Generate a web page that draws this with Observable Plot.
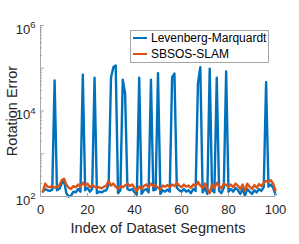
<!DOCTYPE html>
<html><head><meta charset="utf-8">
<script src="https://cdn.jsdelivr.net/npm/d3@7"></script>
<script src="https://cdn.jsdelivr.net/npm/@observablehq/plot@0.6"></script>
<style>
body{margin:0;background:#fff;}
#wrap{position:relative;width:299px;height:244px;font-family:"Liberation Sans",Arial,sans-serif;}
.legend{position:absolute;left:130px;top:30px;width:137px;height:31px;border:1px solid #a6a6a6;background:#fff;}
.legend .ln{position:absolute;left:2px;width:14px;height:2px;}
.legend .tx{position:absolute;left:20px;font-size:12px;line-height:16px;color:#000;white-space:nowrap;}
</style>
</head><body>
<div id="wrap"></div>
<script>
// Data
const seriesNames = ["Levenberg-Marquardt", "SBSOS-SLAM"];
const seriesColors = ["#0072BD", "#D95319"];
const segmentIndex = d3.range(1, 101);
const lmError = [
  130, 150, 140, 135, 145, 52000, 140, 150, 200, 230,
  120, 100, 105, 130, 125, 150, 130, 71000, 140, 160,
  130, 150, 60000, 120, 130, 125, 135, 140, 190, 60000,
  106000, 116000, 120, 140, 54000, 26000, 150, 140, 150, 125,
  110, 60000, 115, 140, 150, 125, 54000, 140, 145, 77000,
  115, 140, 130, 145, 130, 62000, 75000, 160, 140, 130,
  150, 130, 140, 120, 150, 135, 44000, 106000, 125, 160,
  115, 97000, 140, 125, 60000, 135, 120, 160, 84000, 130,
  150, 130, 160, 140, 115, 150, 105, 150, 130, 115,
  140, 125, 150, 135, 165, 47000, 170, 190, 160, 110
];
const sbsosError = [
  130, 200, 170, 165, 175, 160, 170, 180, 240, 260,
  190, 160, 150, 175, 165, 190, 170, 210, 180, 200,
  165, 185, 170, 160, 165, 155, 170, 180, 230, 180,
  200, 170, 150, 175, 165, 180, 200, 175, 190, 160,
  135, 170, 150, 175, 190, 165, 200, 175, 185, 160,
  145, 180, 170, 185, 165, 190, 175, 210, 180, 165,
  190, 170, 180, 160, 190, 175, 220, 180, 160, 200,
  150, 120, 190, 160, 210, 175, 155, 200, 185, 170,
  190, 165, 200, 180, 150, 190, 135, 200, 170, 150,
  185, 160, 195, 175, 210, 230, 220, 240, 200, 140
];
const xTicks = [0, 20, 40, 60, 80, 100];
const yLabelTicks = [1e2, 1e4, 1e6];
const yMajorTicks = [1e2, 1e3, 1e4, 1e5, 1e6];
const yMinorTicks = [];
for (const dec of [1e2, 1e3, 1e4, 1e5]) for (const m of [2,3,4,5,6,7,8,9]) yMinorTicks.push(m * dec);
const xLabel = "Index of Dataset Segments";
const yLabel = "Rotation Error";

const rows = segmentIndex.map((s, i) => ({seg: s, val: lmError[i], series: seriesNames[0]}));
const rows2 = segmentIndex.map((s, i) => ({seg: s, val: sbsosError[i], series: seriesNames[1]}));

const axisColor = "#a6a6a6";
const chart = Plot.plot({
  width: 299, height: 244,
  marginLeft: 40, marginRight: 24, marginTop: 25, marginBottom: 48,
  style: {fontFamily: '"Liberation Sans", Arial, sans-serif', fontSize: "13px", color: "#262626", background: "#fff"},
  x: {domain: [0, 100], axis: null},
  y: {type: "log", domain: [100, 1e6], axis: null},
  marks: [
    Plot.line(rows, {x: "seg", y: "val", stroke: seriesColors[0], strokeWidth: 2.4}),
    Plot.line(rows2, {x: "seg", y: "val", stroke: seriesColors[1], strokeWidth: 2.4}),
    Plot.ruleX([0], {stroke: axisColor}),
    Plot.ruleY([100], {stroke: axisColor}),
    Plot.tickY(yMinorTicks, {y: d => d, insetRight: 233, stroke: axisColor}),
    Plot.tickY(yMajorTicks, {y: d => d, insetRight: 231, stroke: axisColor}),
    Plot.tickX(xTicks, {x: d => d, insetTop: 168, stroke: axisColor}),
    Plot.axisY({ticks: yLabelTicks, tickSize: 0, tickPadding: 5, dy: 4, fontSize: 13,
      tickFormat: d => "10^" + Math.round(Math.log10(d)), label: null}),
    Plot.axisX({ticks: xTicks, tickSize: 0, tickPadding: 8, fontSize: 13, tickFormat: d => String(d), label: null}),
    Plot.text([xLabel], {frameAnchor: "bottom", lineAnchor: "middle", textAnchor: "middle", dy: 32, fontSize: 14.5, fill: "#262626"}),
    Plot.text([yLabel], {frameAnchor: "left", lineAnchor: "middle", textAnchor: "middle", rotate: -90, dx: -28, fontSize: 14.5, fill: "#262626"})
  ]
});

chart.querySelectorAll("text").forEach(t => {
  const m = /^10\^(\d+)$/.exec(t.textContent);
  if (m) {
    t.textContent = "10";
    const ts = document.createElementNS("http://www.w3.org/2000/svg", "tspan");
    ts.setAttribute("dy", "-0.55em");
    ts.setAttribute("font-size", "9.5");
    ts.textContent = m[1];
    t.appendChild(ts);
  }
});

const wrap = document.getElementById("wrap");
wrap.appendChild(chart);
const legend = document.createElement("div");
legend.className = "legend";
const pos = [{line: 6, text: -1}, {line: 22, text: 15}];
seriesNames.forEach((name, i) => {
  const ln = document.createElement("span");
  ln.className = "ln";
  ln.style.top = pos[i].line + "px";
  ln.style.background = seriesColors[i];
  const tx = document.createElement("span");
  tx.className = "tx";
  tx.style.top = pos[i].text + "px";
  tx.textContent = name;
  legend.appendChild(ln);
  legend.appendChild(tx);
});
wrap.appendChild(legend);
</script>
</body></html>
